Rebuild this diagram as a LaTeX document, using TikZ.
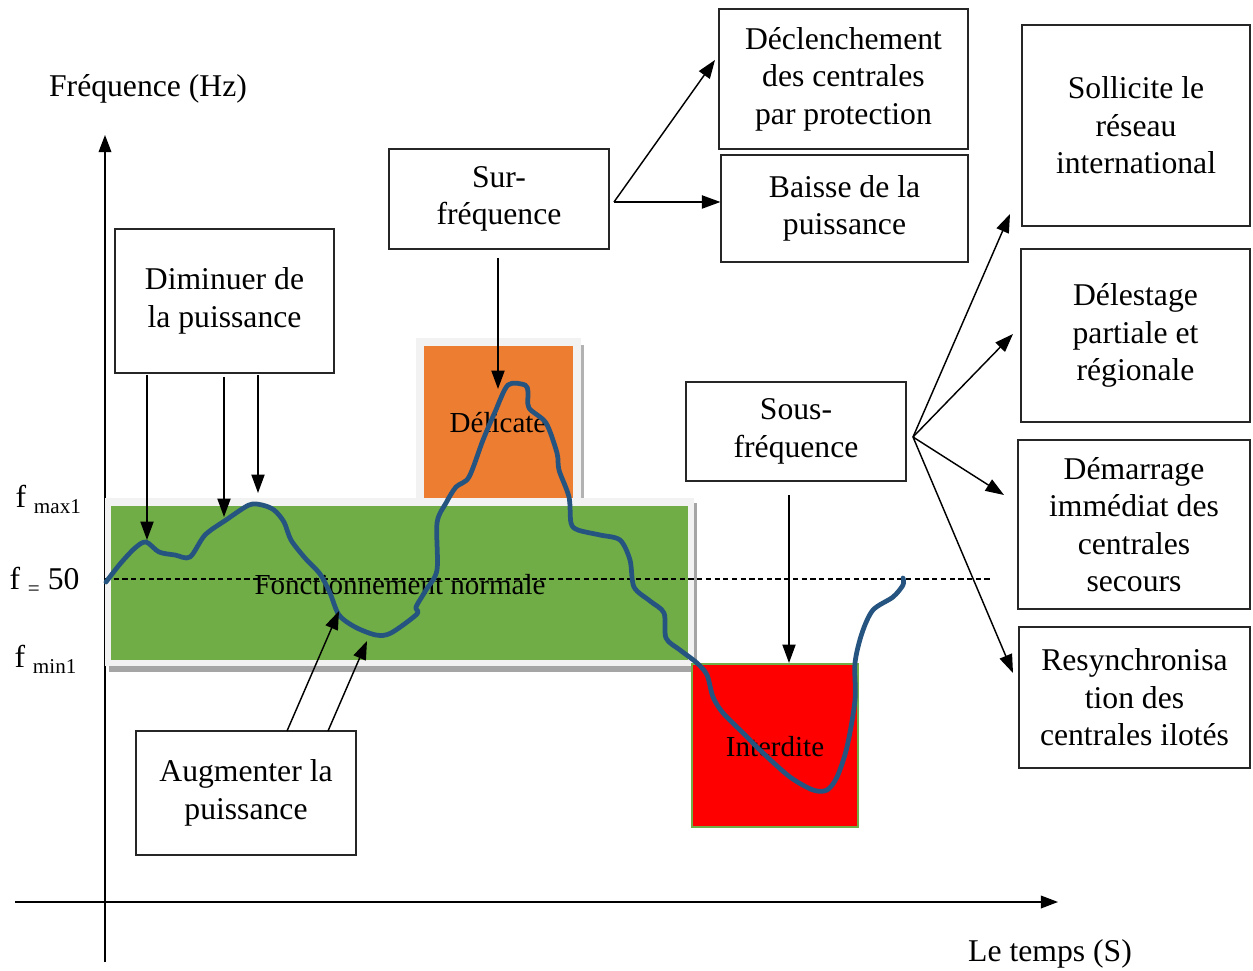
\documentclass[tikz,border=0pt]{standalone}
\usepackage{fontspec}
\setmainfont{Liberation Serif}
\usetikzlibrary{arrows.meta,calc}
\definecolor{curveblue}{RGB}{38,84,128}
\definecolor{okgreen}{RGB}{112,173,71}
\definecolor{warnorange}{RGB}{237,125,49}
\definecolor{framegray}{RGB}{242,242,242}
\definecolor{shadowgray}{RGB}{165,165,165}
\tikzset{
  box/.style={draw=black!85, line width=0.45pt, fill=white, align=center, inner sep=0pt,
              font=\fontsize{12}{14.2}\selectfont},
  bx/.style 2 args={minimum width={#1*0.379pt}, minimum height={#2*0.379pt}},
  arr/.style={-{Triangle[length=7pt,width=5pt]}, line width=0.55pt},
  axis/.style={-{Triangle[length=6.5pt,width=4.8pt]}, line width=0.6pt},
  lbl/.style={font=\fontsize{12}{14}\selectfont, inner sep=0pt},
  zone/.style={font=\fontsize{11}{13}\selectfont, inner sep=0pt},
  curve/.style={draw=curveblue, line width=1.8pt, line cap=round, line join=round},
}
\newcommand{\subtxt}[1]{\raisebox{-0.45ex}{\fontsize{8}{9}\selectfont #1}}
\begin{document}
\begin{tikzpicture}[x=0.379pt,y=-0.379pt]
\useasboundingbox (0,0) rectangle (1253,971);

% axes
\coordinate (yb) at (105,962); \coordinate (yt) at (105,135);
\coordinate (xl) at (15,902);  \coordinate (xr) at (1058,902);
\draw[axis] (yb) -- (yt);
\draw[axis] (xl) -- (xr);
\node[lbl] (ylab) at (148,89) {Fréquence (Hz)};
\node[lbl] (xlab) at (1050,954) {Le temps (S)};

% zones
\fill[shadowgray] (109,503) rectangle (697,672);
\fill[framegray] (105,498) rectangle (694,666);
\fill[okgreen] (111,506) rectangle (688,660);

\fill[framegray] (416,338) rectangle (581,498);
\fill[black!30] (581,345) rectangle (583.5,498);
\fill[warnorange] (424,346) rectangle (573,498);

\draw[fill=red, draw=okgreen, line width=0.4pt] (692,664) rectangle (858,827);

% dashed reference line
\coordinate (dl) at (105,579); \coordinate (dr) at (993,579);
\draw[dash pattern=on 2pt off 1.3pt, line width=0.4pt] (dl) -- (dr);

% zone labels
\node[zone] (fn) at (400,585) {Fonctionnement normale};
\node[zone] (dz) at (498,423) {Délicate};
\node[zone] (iz) at (775,747) {Interdite};

% frequency labels
\node[lbl, anchor=base west] (fmax) at (15,507) {f\hspace{3pt}\subtxt{max1}};
\node[lbl, anchor=base west] (f50) at (9,589) {f\hspace{3pt}\subtxt{=}\hspace{3pt}50};
\node[lbl, anchor=base west] (fmin) at (14,667) {f\hspace{3pt}\subtxt{min1}};

% frequency curve
\draw[curve] plot[smooth, tension=0.5] coordinates {
 (106,582) (120,564) (135,548) (146,542) (159,552) (175,555) (190,557)
 (205,535) (226,520) (249,505) (262,505) (274,510) (284,522) (291,540)
 (305,558) (320,574) (330,593) (339,615) (355,627) (376,635) (391,633)
 (417,614) (416,607) (426,590) (437,570) (437,523) (446,503) (456,487)
 (469,477) (483,440) (495,412) (508,385) (525,385) (528,392) (529,408)
 (546,423) (557,453) (559,470) (569,497) (571,523) (578,530) (600,535)
 (620,540) (630,560) (634,587) (650,601) (664,613) (666,638) (680,650)
 (697,663) (707,675) (713,697) (723,713) (743,733) (763,753) (790,777)
 (813,790) (827,790) (837,777) (847,747) (855,700) (855,663) (862,633)
 (873,610) (893,597) (903,585) (903,578)};

% boxes
\node[box, bx={219}{144}] (dim) at (224.5,301) {Diminuer de\\la puissance};
\node[box, bx={220}{100}] (sur) at (499,199) {Sur-\\fréquence};
\node[box, bx={249}{140}] (decl) at (843.5,79) {Déclenchement\\des centrales\\par protection};
\node[box, bx={247}{107}] (baisse) at (844.5,208.5) {Baisse de la\\puissance};
\node[box, bx={228}{201}] (soll) at (1136,125.5) {Sollicite le\\réseau\\international};
\node[box, bx={229}{173}] (deles) at (1135.5,335.5) {Délestage\\partiale et\\régionale};
\node[box, bx={232}{169}] (demar) at (1134,524.5) {Démarrage\\immédiat des\\centrales\\secours};
\node[box, bx={231}{141}] (resyn) at (1134.5,697.5) {Resynchronisa\\tion des\\centrales ilotés};
\node[box, bx={220}{99}] (sous) at (796,431.5) {Sous-\\fréquence};
\node[box, bx={220}{124}] (aug) at (246,793) {Augmenter la\\puissance};

% arrow end points
\coordinate (d1s) at (147,375); \coordinate (d1e) at (147,540);
\coordinate (d2s) at (224,377); \coordinate (d2e) at (224,517);
\coordinate (d3s) at (258,375); \coordinate (d3e) at (258,493);
\coordinate (ss) at (498,258);  \coordinate (se) at (498,389);
\coordinate (sf) at (614,202);
\coordinate (qs) at (789,495);  \coordinate (qe) at (789,663);
\coordinate (qf) at (913,437);
\coordinate (a1s) at (287,731); \coordinate (a1e) at (339,611);
\coordinate (a2s) at (328,731); \coordinate (a2e) at (367,641);

\draw[arr] (d1s) -- (d1e);
\draw[arr] (d2s) -- (d2e);
\draw[arr] (d3s) -- (d3e);
\draw[arr] (ss) -- (se);
\draw[arr] (sf) -- (715,60) coordinate (declin);
\draw[arr] (sf) -- (baisse.west |- sf);
\draw[arr] (qs) -- (qe);
\draw[arr] (qf) -- (1010,214);
\draw[arr] (qf) -- (1013,334);
\draw[arr] (qf) -- (1004,495);
\draw[arr] (qf) -- (1013,673);
\draw[arr] (a1s) -- (a1e);
\draw[arr] (a2s) -- (a2e);
\end{tikzpicture}
\end{document}
